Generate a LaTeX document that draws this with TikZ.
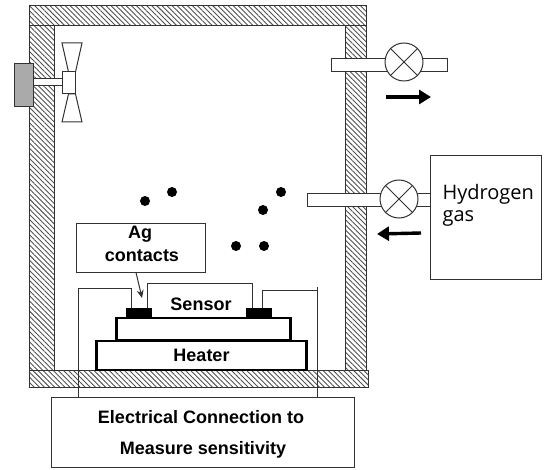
\documentclass[tikz,border=0pt]{standalone}
\usepackage{fontspec}
\setmainfont{Liberation Sans}
\newfontfamily\gasfont{Open Sans}
\usetikzlibrary{arrows.meta,patterns.meta}
\definecolor{ink}{RGB}{50,50,50}
\definecolor{motor}{RGB}{170,170,170}
\tikzset{
  wall/.style={draw=ink,line width=1pt,pattern={Lines[angle=-45,distance=3.6pt,line width=0.9pt]},pattern color=ink!85},
  part/.style={draw=ink,fill=white,line width=1pt,inner sep=0pt},
  layer/.style={draw=black,fill=white,line width=2.2pt,inner sep=0pt},
  valve/.style={part,circle,minimum size=38pt},
  contact/.style={fill=black,inner sep=0pt,minimum width=26pt,minimum height=9pt},
  gasdot/.style={circle,fill=black,inner sep=0pt,minimum size=10pt},
  wire/.style={draw=ink,line width=0.9pt},
  flow/.style={draw=black,line width=3.4pt,-{Triangle[length=12pt,width=14pt]}}
}
\begin{document}
\begin{tikzpicture}[x=1pt,y=-1pt,font=\fontsize{18pt}{22pt}\selectfont\bfseries]
    \useasboundingbox (0,0) rectangle (545,470);
    % chamber walls
    \draw[wall] (29,6) rectangle (366,26);
    \draw[wall] (29,26) rectangle (54,370);
    \draw[wall] (345,26) rectangle (366,370);
    \draw[wall] (29,370) rectangle (368,387);
    % fan
    \draw[part] (62,43) -- (82,43) -- (75.5,72) -- (68.5,72) -- cycle;
    \draw[part] (62,122) -- (82,122) -- (75.5,94) -- (68.5,94) -- cycle;
    \node[part,minimum width=29pt,minimum height=7pt] (shaft) at (47.5,82.5) {};
    \node[part,minimum width=13pt,minimum height=22pt] (hub) at (68.5,83) {};
    \node[part,fill=motor,minimum width=19pt,minimum height=43pt] (fanmotor) at (23.5,85.5) {};
    % pipes and valves
    \node[part,minimum width=116pt,minimum height=13pt] (pipeout) at (389,65.5) {};
    \node[part,minimum width=123pt,minimum height=12pt] (pipein) at (368.5,200) {};
    \node[valve] (valveout) at (404,62) {};
    \node[valve] (valvein) at (399,199) {};
    \foreach \v in {valveout,valvein} {
      \draw[ink,line width=0.9pt] (\v.north west) -- (\v.south east);
      \draw[ink,line width=0.9pt] (\v.north east) -- (\v.south west);
    }
    \node[part,minimum width=111pt,minimum height=123pt] (gasbox) at (485.5,217.5) {};
    \node[anchor=west,font=\gasfont\mdseries\fontsize{20pt}{24pt}\selectfont] (hydrogen) at (439,194) {Hydrogen};
    \node[anchor=west,font=\gasfont\mdseries\fontsize{20pt}{24pt}\selectfont] (gas) at (439,218) {gas};
    \coordinate (outa) at (386,97);
    \coordinate (outb) at (431,97);
    \coordinate (ina) at (421,233);
    \coordinate (inb) at (377,234);
    \draw[flow] (outa) -- (outb);
    \draw[flow] (ina) -- (inb);
    % hydrogen molecules
    \foreach \n/\x/\y in {a/145/201,b/172/192,c/281/192,d/263/210,e/236/246,f/264/246}
      \node[gasdot] (dot\n) at (\x,\y) {};
    % sensor stack
    \node[layer,minimum width=210pt,minimum height=29pt] (heater) at (201.5,355.5) {Heater};
    \node[layer,minimum width=174pt,minimum height=22pt] (substrate) at (203.5,329) {};
    \node[contact] (contactl) at (139,312.5) {};
    \node[contact] (contactr) at (259,312.5) {};
    \node (sensor) at (201,304) {Sensor};
    \coordinate (sensl) at (147,283);
    \coordinate (sensr) at (252,283);
    \draw[wire] (sensl |- contactl.north) -- (sensl) -- (sensr) -- (sensr |- contactr.north);
    % labels and wires
    \node[part,minimum width=303pt,minimum height=70pt,align=center] (connbox) at (202.5,432) {};
    \node (connone) at (201,417) {Electrical Connection to};
    \node (conntwo) at (203,450) {Measure sensitivity};
    \coordinate (wirel) at (78,288);
    \coordinate (wirer) at (317,290);
    \draw[wire] (wirel |- connbox.north) -- (wirel) -| (131,0 |- contactl.north);
    \draw[wire] (262,0 |- contactr.north) |- (wirer);
    \draw[wire] (317,287) -- (317,0 |- connbox.north);
    \node[part,minimum width=129pt,minimum height=49pt] (agbox) at (140.5,247.5) {};
    \node (ag) at (140,234) {Ag};
    \node (contacts) at (142,256) {contacts};
    \draw[ink,line width=1pt,-{Stealth[length=8pt,width=7pt]}] (agbox.south -| 136,0) -- (142,298);
  \end{tikzpicture}
\end{document}
